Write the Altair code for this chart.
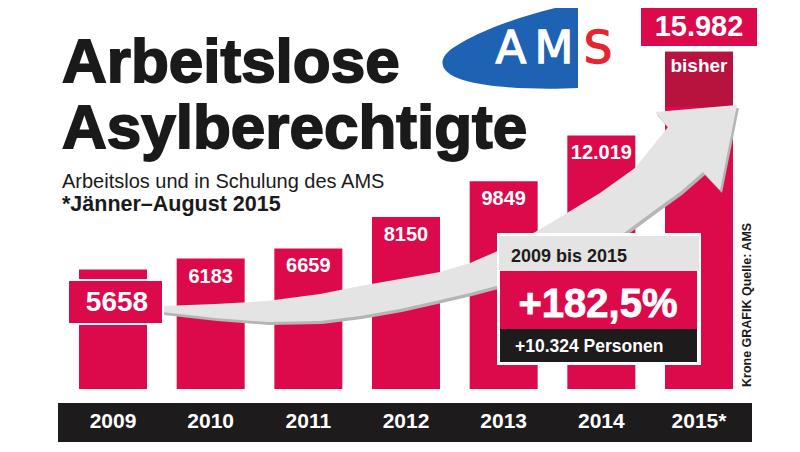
import altair as alt
import pandas as pd

# ---------------- data ----------------
years = ["2009", "2010", "2011", "2012", "2013", "2014", "2015"]
year_labels = ["2009", "2010", "2011", "2012", "2013", "2014", "2015*"]
values = [5658, 6183, 6659, 8150, 9849, 12019, 15982]
value_labels = ["5658", "6183", "6659", "8150", "9849", "12.019", "15.982"]

title_lines = ["Arbeitslose", "Asylberechtigte"]
subtitle = "Arbeitslos und in Schulung des AMS"
footnote = "*Jänner–August 2015"
callout_period = "2009 bis 2015"
callout_pct = "+182,5%"
callout_abs = "+10.324 Personen"
partial_note = "bisher"
source_note = "Krone GRAFIK  Quelle: AMS"
logo_letters = ["A", "M", "S"]

# ---------------- styles ----------------
RED = "#dc0a4a"
DARK_RED = "#b8123f"
BLACK = "#1e1b1c"
GREY = "#e4e4e4"
BLUE = "#1e62b4"
LOGO_RED = "#e3262f"
FONT = "Liberation Sans"

df = pd.DataFrame({"year": years, "label": year_labels, "value": values, "vlabel": value_labels})
one = pd.DataFrame({"a": [0]})

X = alt.X("year:N", scale=alt.Scale(domain=years, range=[56.17, 739.83],
                                    paddingInner=0.304, paddingOuter=0.152), axis=None)
Y = alt.Y("value:Q", scale=alt.Scale(domain=[0, 16000], range=[381, 43.4], nice=False, zero=True), axis=None)

base = alt.Chart(df)


def box(x1, y1, x2, y2, color, **kw):
    return alt.Chart(one).mark_rect(color=color, **kw).encode(
        x=alt.value(x1), x2=alt.value(x2), y=alt.value(y1), y2=alt.value(y2))


def label(text, x, y, size, color, weight="bold", align="left", baseline="alphabetic", font=FONT, **kw):
    return alt.Chart(one).mark_text(text=text, font=font, fontSize=size, color=color, fontWeight=weight,
                                    align=align, baseline=baseline, **kw).encode(
        x=alt.value(x), y=alt.value(y))


def shape(path, color, **kw):
    return alt.Chart(one).mark_point(shape=path, size=4, filled=True, fill=color, strokeWidth=0,
                                     opacity=1, **kw).encode(x=alt.value(0), y=alt.value(0))


# black band with years
band = box(50, 395, 744, 434, BLACK)
year_text = base.mark_text(font=FONT, fontSize=21, fontWeight="bold", color="white",
                           baseline="middle").encode(x=X, y=alt.value(414), text="label:N")

# bars
bars = base.mark_bar(color=RED).encode(x=X, y=Y)
bisher_rect = base.transform_filter(alt.datum.year == "2015").transform_calculate(
    bot="datum.value - 2600").mark_bar(color=DARK_RED).encode(x=X, y=Y, y2="bot:Q")
bar_labels = base.transform_filter(
    alt.FieldOneOfPredicate(field="year", oneOf=["2010", "2011", "2012", "2013", "2014"])
).mark_text(font=FONT, fontSize=20, fontWeight="bold", color="white", dy=18).encode(
    x=X, y=Y, text="vlabel:N")
bisher_text = base.transform_filter(alt.datum.year == "2015").mark_text(
    text=partial_note, font=FONT, fontSize=19, fontWeight="bold", color="white", dy=14).encode(x=X, y=Y)

# arrow
upper = [(162, 306), (215, 304), (267, 301), (320, 294), (360, 286), (400, 279), (440, 272),
         (470, 263), (500, 250), (537, 231), (567, 213), (600, 193), (635, 168), (668, 127)]
head = [(655, 112), (737, 105), (720, 190), (703, 172)]
lower = [(680, 192), (655, 210), (620, 236), (580, 258), (540, 274), (500, 285), (470, 293),
         (440, 300), (400, 309), (360, 316), (320, 321), (267, 322), (215, 318), (162, 312)]
pts = upper + head + lower


def poly(points, dx=0, dy=0):
    return "M " + " L ".join(f"{x - 8 + dx} {y - 8 + dy}" for x, y in points) + " Z"


arrow_shadow = shape(poly(pts, 2, 3), "#b5b5b5")
arrow = shape(poly(pts), GREY)

# 2009 box
box09 = box(59, 271, 156, 317, "white")
box09_in = box(61, 273, 154, 315, RED)
box09_text = base.transform_filter(alt.datum.year == "2009").mark_text(
    font=FONT, fontSize=28, fontWeight="bold", color="white", dx=4, dy=33).encode(x=X, y=Y, text="vlabel:N")

# 2015 top box
box15 = box(633, 0, 749, 38, RED)
box15_text = base.transform_filter(alt.datum.year == "2015").mark_text(
    font=FONT, fontSize=29, fontWeight="bold", color="white", dy=-25).encode(x=X, y=Y, text="vlabel:N")

# callout
c_outer = box(489, 225, 693, 357, "white")
c_grey = box(491, 228, 691, 263, GREY)
c_red = box(492, 263, 689, 321, RED)
c_black = box(492, 321, 689, 354, BLACK)
c_t1 = label(callout_period, 503, 254, 18, BLACK)
c_t2 = label(callout_pct, 590, 309, 40, "white", align="center", stroke="white", strokeWidth=0.8)
c_t3 = label(callout_abs, 507, 344, 17.5, "white")

# titles
t1 = label(title_lines[0], 54, 74, 62, "#1a1a1a", stroke="#1a1a1a", strokeWidth=1.8)
t2 = label(title_lines[1], 54, 140, 62, "#1a1a1a", stroke="#1a1a1a", strokeWidth=1.8)
st = label(subtitle, 54, 180, 20, "#1a1a1a", weight="normal")
fn = label(footnote, 54, 203, 21.5, "#1a1a1a")

# AMS logo
logo_path = "M 560 -3 L 570 0 L 570 80 C 530 82 480 80 455 72 C 430 64 428 50 448 38 C 470 24 510 8 560 -3 Z"
logo = shape(logo_path, BLUE)
lA = label(logo_letters[0], 503, 55, 45, "white", weight="normal", align="center",
           font="DejaVu Sans", stroke="white", strokeWidth=1.3)
lM = label(logo_letters[1], 546, 55, 45, "white", weight="normal", align="center",
           font="DejaVu Sans", stroke="white", strokeWidth=1.3)
lS = label(logo_letters[2], 590, 55, 45, LOGO_RED, weight="normal", align="center",
           font="DejaVu Sans", stroke=LOGO_RED, strokeWidth=1.3)

# source
src = label(source_note, 739, 379, 12.5, "#1a1a1a", angle=270, baseline="middle")

chart = alt.layer(
    band, bars, bisher_rect, bar_labels, bisher_text,
    arrow_shadow, arrow,
    box09, box09_in, box09_text,
    box15, box15_text,
    c_outer, c_grey, c_red, c_black, c_t1, c_t2, c_t3,
    year_text, t1, t2, st, fn, logo, lA, lM, lS, src,
).properties(width=784, height=436, padding=0, autosize="none", background="white"
).configure_view(stroke=None)

chart.save("out.html", embed_options={"renderer": "svg", "actions": False})
